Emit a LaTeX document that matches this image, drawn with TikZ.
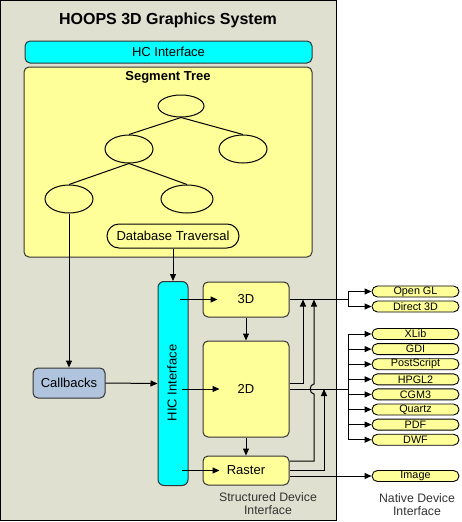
\documentclass[tikz,border=0pt]{standalone}
\usepackage{fontspec}
\setmainfont{Liberation Sans}
\usetikzlibrary{arrows.meta,shapes.geometric,calc}
\definecolor{panelc}{RGB}{223,224,207}
\definecolor{ylw}{RGB}{255,255,153}
\definecolor{cyn}{RGB}{0,255,255}
\definecolor{cbc}{RGB}{176,196,222}
\definecolor{edgec}{RGB}{51,51,51}
\begin{document}
\begin{tikzpicture}[x=1pt,y=-1pt,
  box/.style={draw=edgec, line width=1pt, rounded corners=5pt, inner sep=0pt, font=\fontsize{13}{15}\selectfont},
  pill/.style={draw=black, line width=0.9pt, fill=ylw, rounded corners=5.5pt, minimum width=87pt, minimum height=11pt, inner sep=0pt, font=\fontsize{10.8}{11}\selectfont},
  ell/.style={draw=black, line width=1pt, ellipse, inner sep=0pt},
  arr/.style={-{Triangle[length=7pt,width=6pt]}, line width=1pt},
  ln/.style={line width=1pt},
  lbl/.style={font=\fontsize{12.3}{13}\selectfont, text=black!80, align=center}]
\useasboundingbox (0,0) rectangle (461,522);
\draw[fill=panelc, draw=black, line width=1pt] (0.5,0.5) rectangle (336.5,520.5);
\node[font=\bfseries\fontsize{16}{18}\selectfont] (title) at (168,20) {HOOPS 3D Graphics System};
\node[box, fill=cyn, minimum width=287pt, minimum height=22pt] (hc) at (168.5,52) {HC Interface};
\node[box, fill=ylw, minimum width=288pt, minimum height=190pt] (seg) at (168,162) {};
\node[font=\bfseries\fontsize{13}{15}\selectfont] (segt) at (168,77.5) {Segment Tree};
\node[ell, minimum width=46pt, minimum height=22pt] (e1) at (181,106) {};
\node[ell, minimum width=48pt, minimum height=28pt] (e2) at (129,149) {};
\node[ell, minimum width=48pt, minimum height=28pt] (e3) at (243,149) {};
\node[ell, minimum width=48pt, minimum height=28pt] (e4) at (69,199) {};
\node[ell, minimum width=52pt, minimum height=28pt] (e5) at (187,199) {};
\draw[ln] (e1.south) -- (e2.north);
\draw[ln] (e1.south) -- (e3.north);
\draw[ln] (e2.south) -- (e4.north);
\draw[ln] (e2.south) -- (e5.north);
\node[box, draw=black, fill=ylw, rounded corners=12pt, minimum width=132pt, minimum height=24pt] (db) at (173,236) {Database Traversal};
\node[box, fill=cbc, minimum width=72pt, minimum height=30pt] (cb) at (69,383) {Callbacks};
\node[box, fill=cyn, rounded corners=6pt, minimum width=30pt, minimum height=204pt] (hic) at (173,383.5) {};
\node[rotate=90, font=\fontsize{13}{15}\selectfont] (hict) at (172,383) {HIC Interface};
\node[box, fill=ylw, minimum width=86pt, minimum height=35pt] (d3) at (246,299.5) {3D};
\node[box, fill=ylw, minimum width=86pt, minimum height=96pt] (d2) at (246,389) {2D};
\node[box, fill=ylw, minimum width=86pt, minimum height=29pt] (ras) at (246,470.5) {Raster};
% native pills
\node[pill] (ogl) at (415.5,291.5) {Open GL};
\node[pill] (d3d) at (415.5,306.5) {Direct 3D};
\node[pill] (xlib) at (415.5,334) {XLib};
\node[pill] (gdi) at (415.5,349.1) {GDI};
\node[pill] (ps) at (415.5,364.2) {PostScript};
\node[pill] (hpgl) at (415.5,379.3) {HPGL2};
\node[pill] (cgm) at (415.5,394.4) {CGM3};
\node[pill] (qtz) at (415.5,409.5) {Quartz};
\node[pill] (pdf) at (415.5,424.6) {PDF};
\node[pill] (dwf) at (415.5,439.7) {DWF};
\node[pill] (img) at (415.5,476) {Image};
% left connectors
\draw[arr] (e4.south) -- (cb.north);
\draw[arr] (db.south) -- (hic.north);
\draw[arr] (cb.east) -- (hic.west);
\draw[arr] ($(hic.center |- d3.center)+(7,0)$) -- ($(d3.west)+(15,0)$);
\draw[arr] ($(hic.center |- d2.center)+(9,0)$) -- ($(d2.west)+(17,0)$);
\draw[arr] ($(hic.center |- ras.center)+(9,0)$) -- ($(ras.west)+(17,0)$);
\draw[arr] (d3.south) -- (d2.north);
\draw[arr] (d2.south) -- (ras.north);
% right connectors
\coordinate (j1) at (348,299.5);
\coordinate (j2) at (348,389);
\coordinate (u1) at (303,299.5);
\coordinate (u2) at (314,299.5);
\coordinate (u3) at (324,389);
\coordinate (hb) at (314,394);
\coordinate (ht) at (314,384);
\draw[ln] (d3.east) -- (j1);
\draw[arr] (j1) |- (ogl.west);
\draw[arr] (j1) |- (d3d.west);
\draw[ln] (d2.east) -- (j2);
\draw[ln] (xlib.west -| j2) -- (dwf.west -| j2);
\foreach \p in {xlib,gdi,ps,hpgl,cgm,qtz,pdf,dwf} {\draw[arr] (\p.west -| j2) -- (\p.west);}
\draw[arr] ([yshift=6pt]d2.east) -| (u1);
\draw[arr] ([yshift=9.5pt]ras.east) -| (hb) .. controls ($(hb)+(-5,0)$) and ($(ht)+(-5,0)$) .. (ht) -- (u2);
\draw[arr] ([yshift=0.5pt]ras.east) -| (u3);
\draw[arr] (ras.east |- img.west) -- (img.west);
% labels
\node[lbl] (sdi) at (268,503.5) {Structured Device\\Interface};
\node[lbl] (ndi) at (417,504.5) {Native Device\\Interface};
\end{tikzpicture}
\end{document}
